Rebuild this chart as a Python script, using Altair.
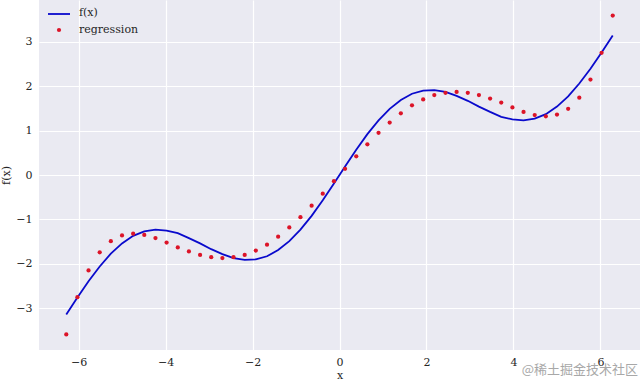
import altair as alt
import pandas as pd

# x samples (50 points from -2*pi to 2*pi)
x_pos = [0.128, 0.385, 0.641, 0.898, 1.154, 1.411, 1.667, 1.924, 2.180, 2.437,
         2.693, 2.950, 3.206, 3.463, 3.719, 3.976, 4.232, 4.489, 4.745, 5.001,
         5.258, 5.514, 5.771, 6.027, 6.283]
# f(x) line values at positive x (curve is antisymmetric)
f_pos = [0.19, 0.57, 0.92, 1.23, 1.49, 1.69, 1.83, 1.90, 1.91, 1.87,
         1.78, 1.67, 1.54, 1.42, 1.31, 1.25, 1.23, 1.27, 1.37, 1.54,
         1.77, 2.06, 2.39, 2.76, 3.14]
# regression dot values at positive x
r_pos = [0.14, 0.42, 0.69, 0.95, 1.18, 1.39, 1.57, 1.70, 1.80, 1.85,
         1.87, 1.85, 1.80, 1.72, 1.63, 1.52, 1.42, 1.35, 1.32, 1.36,
         1.49, 1.74, 2.15, 2.75, 3.59]

xs = [-v for v in reversed(x_pos)] + x_pos
fs = [-v for v in reversed(f_pos)] + f_pos
rs = [-v for v in reversed(r_pos)] + r_pos

x_ticks = [-6, -4, -2, 0, 2, 4, 6]
y_ticks = [-3, -2, -1, 0, 1, 2, 3]
legend_labels = ["f(x)", "regression"]
watermark = ["@稀土掘金技术社区"]

df = pd.DataFrame({"x": xs, "f": fs, "r": rs})

FONT = "DejaVu Serif"
TXT = "#262626"
BLUE = "#0a0acc"
RED = "#dc1428"

xscale = alt.Scale(domain=[-6.91, 6.91], nice=False, zero=False)
yscale = alt.Scale(domain=[-3.94, 3.94], nice=False, zero=False)

xaxis = alt.Axis(values=x_ticks, title="x", domain=False, ticks=False,
                 labelPadding=6, titlePadding=2, grid=True)
yaxis = alt.Axis(values=y_ticks, title="f(x)", domain=False, ticks=False,
                 labelPadding=7, titlePadding=4, grid=True)

base = alt.Chart(df)

line = base.mark_line(color=BLUE, strokeWidth=1.8).encode(
    x=alt.X("x:Q", scale=xscale, axis=xaxis),
    y=alt.Y("f:Q", scale=yscale, axis=yaxis),
)

points = base.mark_circle(color=RED, size=18, opacity=1).encode(
    x=alt.X("x:Q", scale=xscale),
    y=alt.Y("r:Q", scale=yscale),
)

leg_df = pd.DataFrame({"label": legend_labels})

leg_line = alt.Chart(leg_df.iloc[[0]]).mark_rule(color=BLUE, strokeWidth=1.8).encode(
    x=alt.value(9), x2=alt.value(31), y=alt.value(14)
)
leg_dot = alt.Chart(leg_df.iloc[[1]]).mark_circle(color=RED, size=18, opacity=1).encode(
    x=alt.value(20), y=alt.value(30)
)
leg_text1 = alt.Chart(leg_df.iloc[[0]]).mark_text(
    align="left", baseline="middle", font=FONT, fontSize=11, color=TXT
).encode(x=alt.value(40), y=alt.value(13), text="label:N")
leg_text2 = alt.Chart(leg_df.iloc[[1]]).mark_text(
    align="left", baseline="middle", font=FONT, fontSize=11, color=TXT
).encode(x=alt.value(40), y=alt.value(30), text="label:N")

wm = alt.Chart(pd.DataFrame({"t": watermark})).mark_text(
    align="right", baseline="middle", font="Noto Sans CJK SC", fontSize=13,
    color="#a8a8a8"
).encode(x=alt.value(599), y=alt.value(370), text="t:N")

chart = alt.layer(line, points, leg_line, leg_dot, leg_text1, leg_text2, wm).properties(
    width=601,
    height=350,
    autosize=alt.AutoSizeParams(type="none"),
    padding={"left": 39, "top": 0, "right": 0, "bottom": 32},
    background="white",
).configure_view(
    fill="#EAEAF2", stroke=None
).configure_axis(
    gridColor="white", gridWidth=1.2, gridOpacity=1,
    labelFont=FONT, labelFontSize=11, labelColor=TXT,
    titleFont=FONT, titleFontSize=11, titleColor=TXT, titleFontWeight="normal",
)

chart.save("out.html", embed_options={"renderer": "svg", "actions": False})
